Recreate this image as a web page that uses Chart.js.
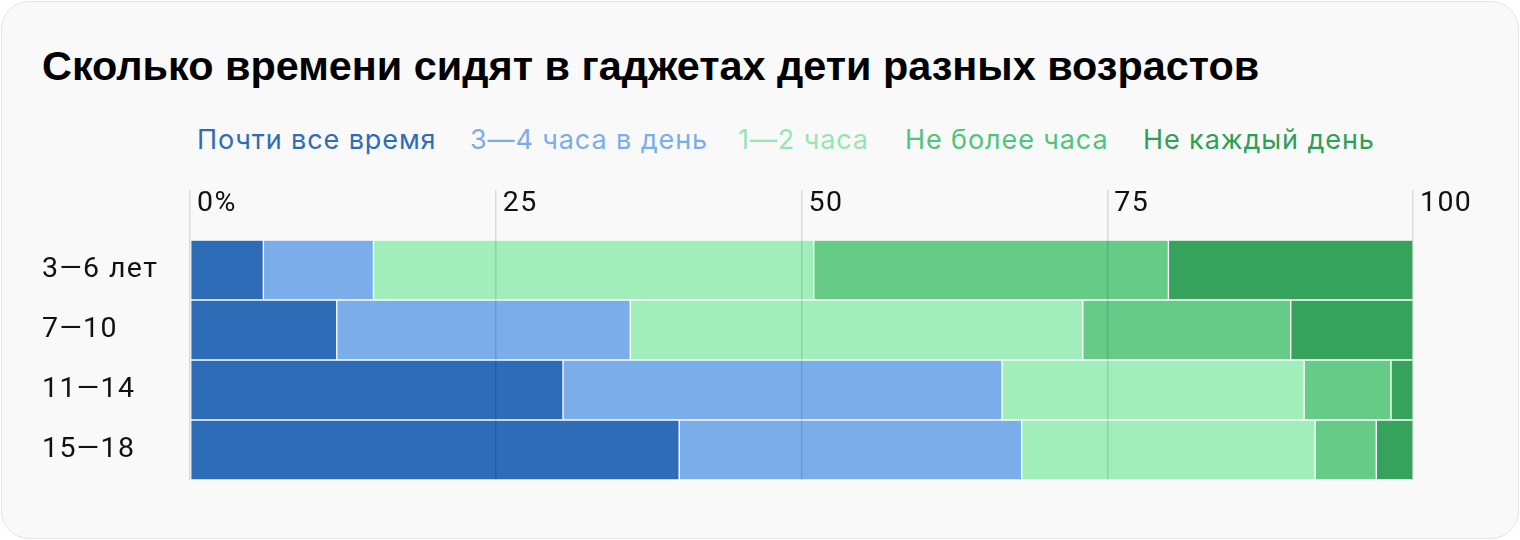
<!DOCTYPE html>
<html>
<head>
<meta charset="utf-8">
<script src="https://cdn.jsdelivr.net/npm/chart.js@4.4.1/dist/chart.umd.min.js"></script>
<style>
  html, body { margin: 0; padding: 0; background: #ffffff; }
  body { width: 1520px; height: 540px; position: relative; overflow: hidden; }
  #card { position: absolute; left: 1px; top: 1px; width: 1516px; height: 536px;
          border: 1px solid #e4e4e4; border-radius: 28px; background: #f9f9f9; }
  #title { position: absolute; left: 42px; top: 43px; font-family: "Liberation Sans", Arial, sans-serif;
           font-weight: bold; font-size: 41.4px; line-height: 46px; color: #000; white-space: nowrap; }
  .lg { position: absolute; top: 123px; font-family: Inter, Roboto, sans-serif; font-size: 27px;
        letter-spacing: 0.9px; line-height: 34px; white-space: nowrap; }
  #wrap { position: absolute; left: 42px; top: 170px; width: 1431px; height: 310px; }
</style>
</head>
<body>
<div id="card"></div>
<div id="title">Сколько времени сидят в гаджетах дети разных возрастов</div>
<div id="legend"></div>
<div id="wrap"><canvas id="c"></canvas></div>
<script>
const categories = ['3—6 лет', '7—10', '11—14', '15—18'];
const seriesNames = ['Почти все время', '3—4 часа в день', '1—2 часа', 'Не более часа', 'Не каждый день'];
const almostAlways = [6, 12, 30.5, 40];
const threeFourHours = [9, 24, 35.9, 28];
const oneTwoHours = [36, 37, 24.7, 24];
const upToHour = [29, 17, 7.1, 5];
const notEveryDay = [20, 10, 1.8, 3];
const xTicks = [0, 25, 50, 75, 100];

const colors = ['#2e6cb8', '#7badea', '#a2eebb', '#67cb88', '#35a35b'];
const legendText = ['#2e6cb8', '#7badea', '#95e6ae', '#4fc47a', '#2f9e57'];
const legendLeft = [197, 470, 738, 905, 1143];

const lg = document.getElementById('legend');
seriesNames.forEach((n, i) => {
  const s = document.createElement('div');
  s.className = 'lg';
  s.style.left = legendLeft[i] + 'px';
  s.style.color = legendText[i];
  s.textContent = n;
  lg.appendChild(s);
});

const values = [almostAlways, threeFourHours, oneTwoHours, upToHour, notEveryDay];
const datasets = values.map((v, i) => ({
  label: seriesNames[i],
  data: v,
  backgroundColor: colors[i],
  borderColor: '#ffffff',
  borderWidth: 1,
  borderSkipped: false,
  barPercentage: 1,
  categoryPercentage: 1
}));

const tracking = {
  id: 'tracking',
  beforeDraw(chart) { if ('letterSpacing' in chart.ctx) chart.ctx.letterSpacing = '1.4px'; }
};

new Chart(document.getElementById('c'), {
  type: 'bar',
  data: { labels: categories, datasets },
  plugins: [tracking],
  options: {
    indexAxis: 'y',
    responsive: true,
    maintainAspectRatio: false,
    animation: false,
    layout: { padding: { top: 20, right: 60, bottom: 0, left: 0 } },
    plugins: { legend: { display: false }, tooltip: { enabled: false } },
    scales: {
      x: {
        position: 'top',
        stacked: true,
        min: 0, max: 100,
        afterBuildTicks: (s) => { s.ticks = xTicks.map(v => ({ value: v })); },
        afterFit: (s) => { s.height = 50; s.paddingLeft = 0; s.paddingRight = 0; },
        grid: { color: 'rgba(0,0,0,0.12)', lineWidth: 1.5, tickLength: 50, drawTicks: true, z: 1 },
        border: { display: false },
        ticks: {
          align: 'start',
          labelOffset: 7,
          padding: -31,
          color: '#111',
          font: { family: 'Roboto', size: 28.5 },
          callback: (v) => v === 0 ? '0%' : String(v)
        }
      },
      y: {
        stacked: true,
        afterFit: (s) => { s.width = 148; s.paddingTop = 0; s.paddingBottom = 0; },
        grid: { display: false },
        border: { display: false },
        ticks: { crossAlign: 'far', color: '#111', font: { family: 'Roboto', size: 28.5 } }
      }
    }
  }
});
</script>
</body>
</html>
